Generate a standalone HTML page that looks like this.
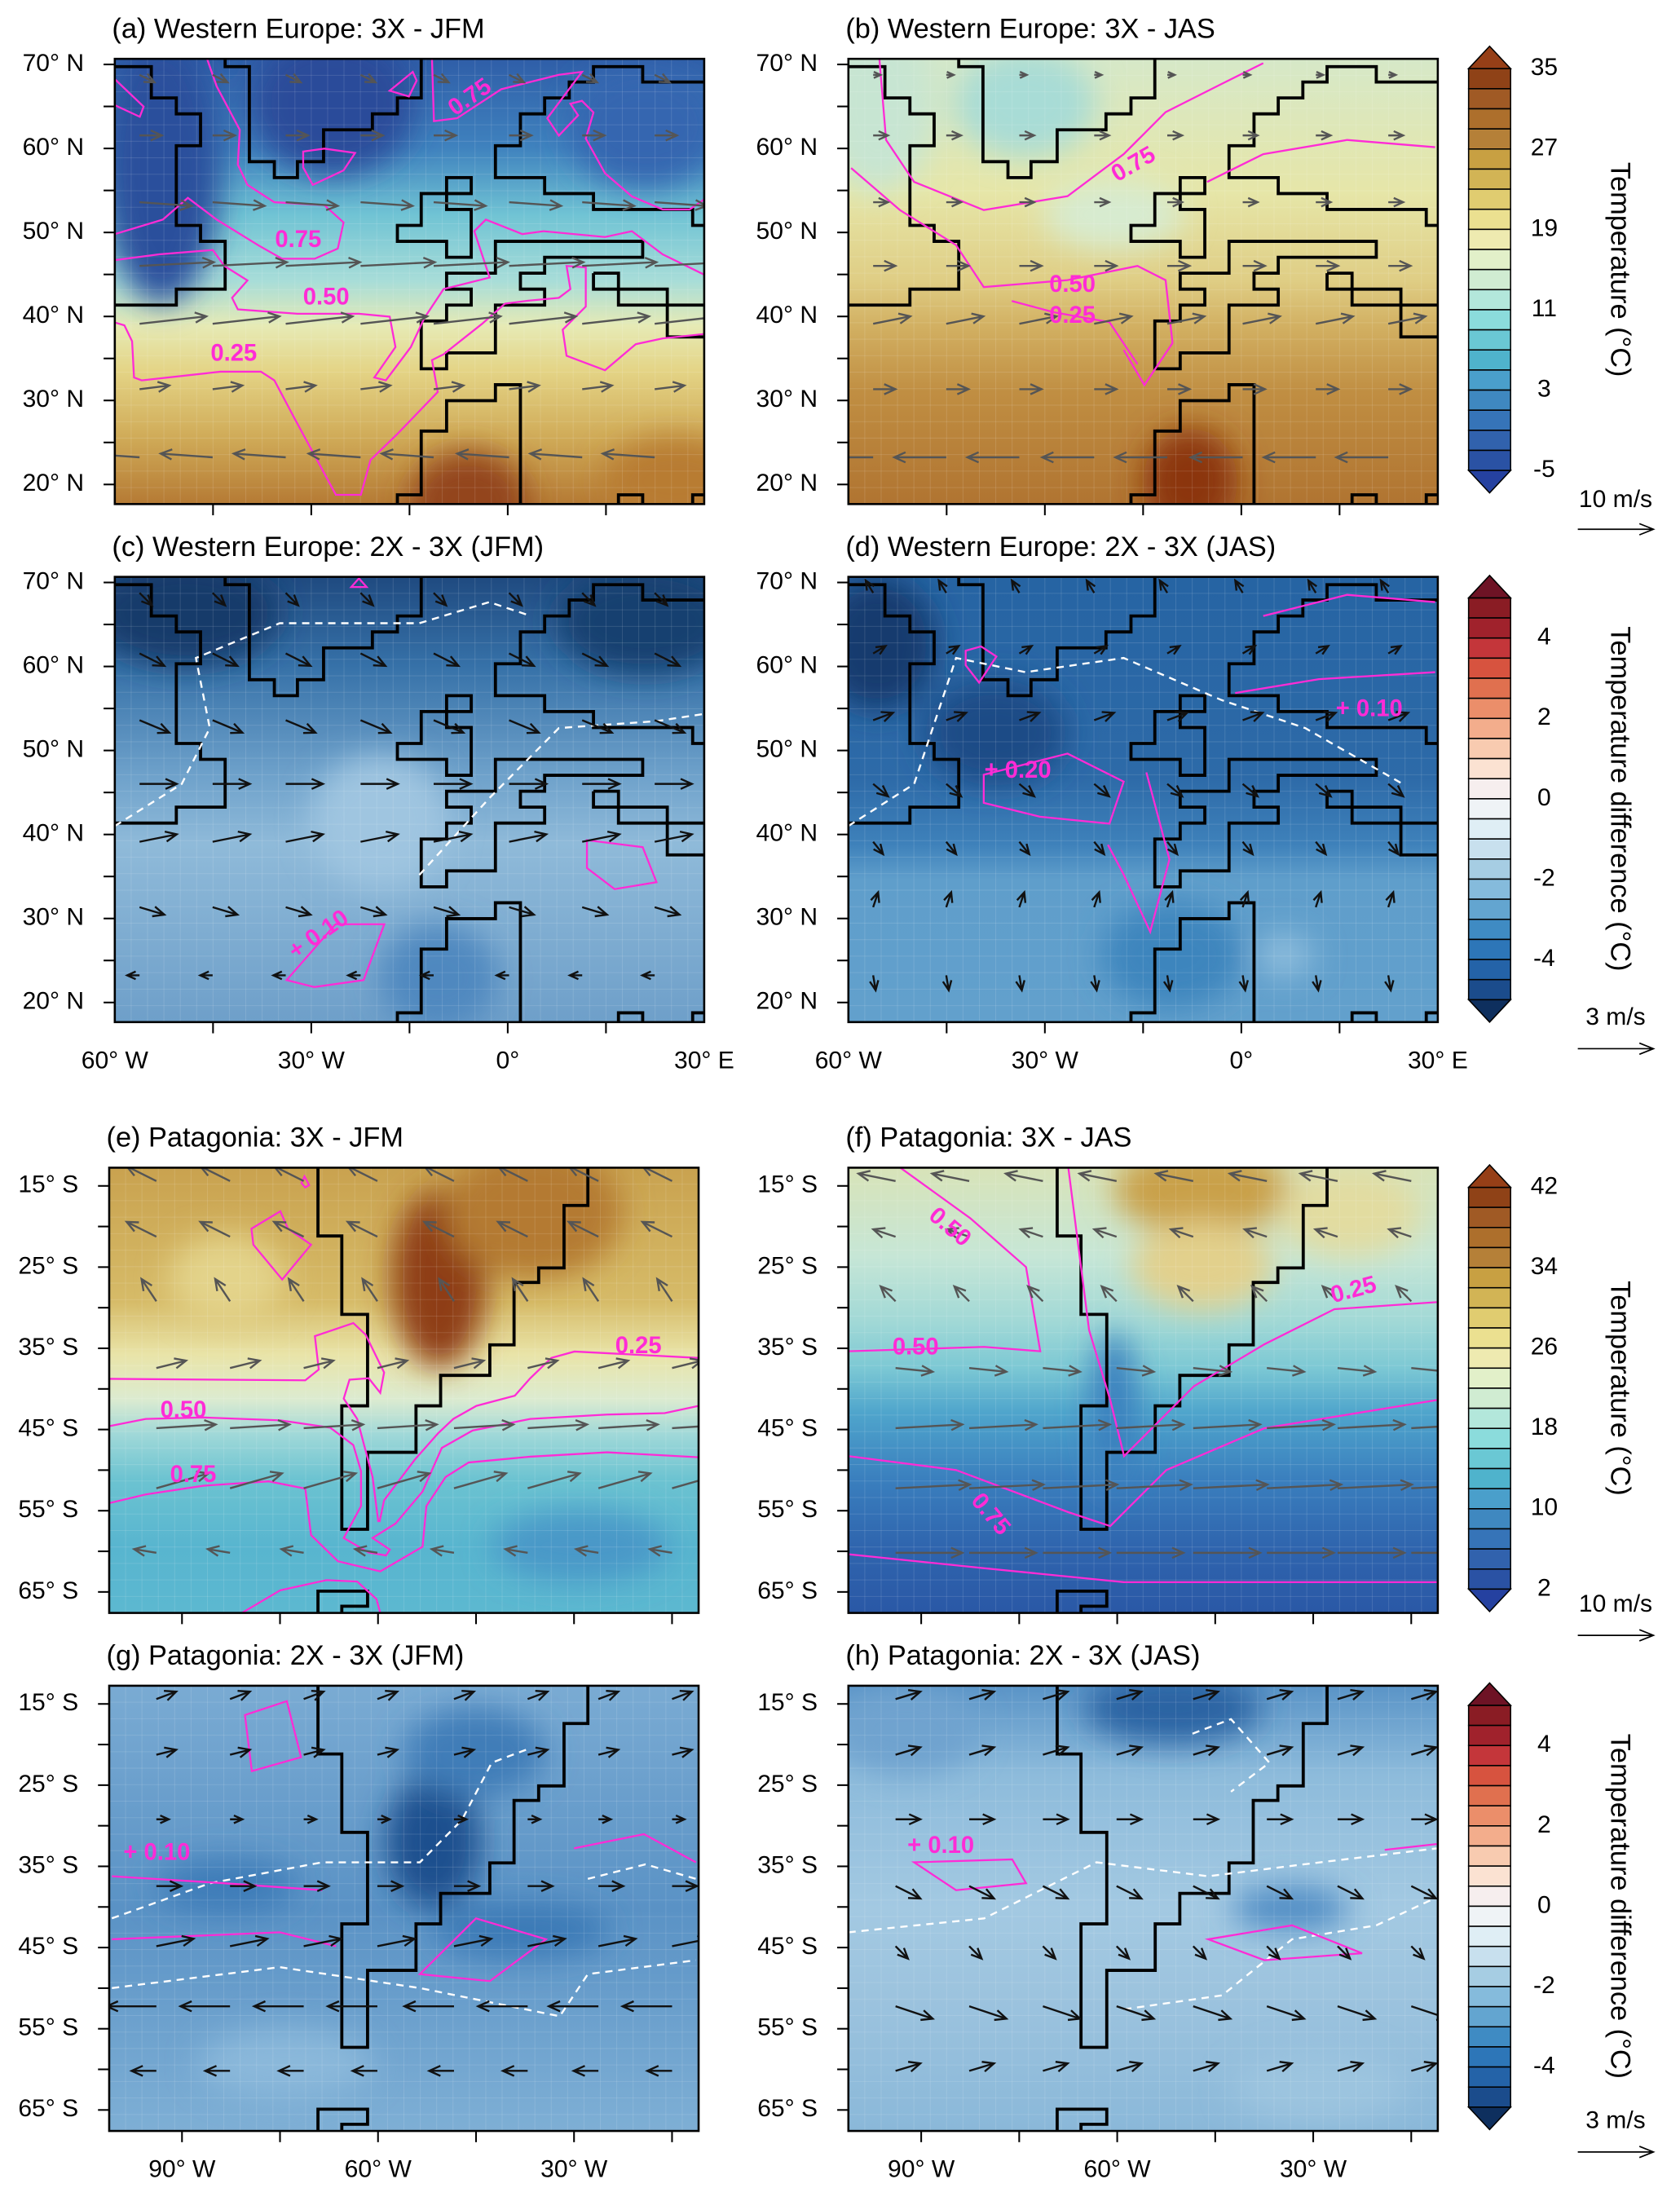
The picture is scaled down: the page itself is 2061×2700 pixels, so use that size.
<!DOCTYPE html>
<html><head><meta charset="utf-8"><title>Temperature maps</title>
<style>html,body{margin:0;padding:0;background:#fff}svg{display:block}text{font-family:"Liberation Sans",Arial,sans-serif}</style>
</head><body>
<svg id="fig" xmlns="http://www.w3.org/2000/svg" width="2061" height="2700" viewBox="0 0 1200 1572">
<defs>
<filter id="blur" x="-50%" y="-50%" width="200%" height="200%"><feGaussianBlur stdDeviation="11"/></filter>
</defs>
</svg>
<script>
// ---------- data ----------
const tempTicks1 = [35, 27, 19, 11, 3, -5];
const diffTicks = [4, 2, 0, -2, -4];
const tempTicks2 = [42, 34, 26, 18, 10, 2];
const eurLatLabels = [70, 60, 50, 40, 30, 20];
const patLatLabels = [15, 25, 35, 45, 55, 65];
const eurLonLabels = [-60, -30, 0, 30];
const patLonLabels = [-90, -60, -30];
const tempColors = ['#2a52a4','#3162ad','#3674b8','#3f88c0','#4a9fcb','#4fb3cc','#6ac8d4','#8bdcdc','#b3e7db','#d0ecd2','#e2f0c9','#eeeab0','#ebe090','#e0cc70','#d2b455','#c8a042','#b58038','#ad6f2c','#a05a25','#8f4217'];
const diffColors = ['#1b4c8c','#2463a8','#2d76b8','#3f8bc3','#63a5d0','#85bbdc','#a6cde3','#c8e0ee','#dfeef5','#eff3f6','#f6eeee','#fbe2d2','#f8cbb0','#f3ad8c','#eb8e6a','#e0704f','#d7533f','#c4363a','#a0222c','#8a1c24'];
// wind rows (top -> bottom), m/s
const windU_a = [2, 3, 7, 10, 9, 4, -7];
const windV_a = [-1, 0, -0.5, 0.5, 1, 0.5, 0.5];
const windU_b = [1, 2, 2, 3, 5, 3, -7];
const windV_b = [0, 0, 0, 0, 1, 0, 0];
const windU_c = [0.5, 1, 1.2, 1.5, 1.5, 1, -0.5];
const windV_c = [-0.5, -0.5, -0.5, 0, 0.3, -0.3, 0];
const windU_d = [-0.3, 0.5, 0.8, 0.6, 0.4, 0.2, 0.1];
const windV_d = [0.5, 0.3, 0.3, -0.5, -0.5, 0.6, -0.6];
const windU_e = [-4, -4, -2, 4, 8, 7, -3];
const windV_e = [2, 2, 3, 1, 0.5, 2, 0.5];
const windU_f = [-5, -3, -2, 5, 9, 10, 9];
const windV_f = [1, 1, 2, -0.5, 0.5, 0.5, 0];
const windU_g = [0.8, 0.8, 0.5, 1, 1.5, -2, -1];
const windV_g = [0.3, 0.2, 0, 0, 0.3, 0, 0];
const windU_h = [1, 1, 1, 1, 0.5, 1.5, 1];
const windV_h = [0.3, 0.3, 0, -0.5, -0.5, -0.5, 0.3];

// ---------- layout ----------
const NS = 'http://www.w3.org/2000/svg';
const svg = document.getElementById('fig');
function mk(tag, attrs, parent) {
  const e = document.createElementNS(NS, tag);
  for (const k in attrs) e.setAttribute(k, attrs[k]);
  (parent || svg).appendChild(e);
  return e;
}
const W = 421, H = 318;
const eurCoast = [
 "M25,52 L120,52 L120,160 L185,160 L185,215 L248,215 L248,325 L185,325 L185,600 L248,600 L248,655 L312,655 L312,820 L185,820 L185,875 L25,875",
 "M312,25 L312,52 L375,52 L375,380 L440,380 L440,435 L500,435 L500,380 L568,380 L568,270 L695,270 L695,215 L760,215 L760,160 L822,160 L822,25",
 "M1558,600 L1528,600 L1528,545 L1270,545 L1270,490 L1143,490 L1143,435 L1015,435 L1015,325 L1080,325 L1080,215 L1143,215 L1143,160 L1207,160 L1207,105 L1270,105 L1270,52 L1398,52 L1398,105 L1558,105",
 "M888,435 L952,435 L952,490 L822,490 L822,600 L760,600 L760,655 L888,655 L888,710 L952,710 L952,545 L888,545 Z",
 "M1015,655 L1398,655 L1398,710 L1143,710 L1143,765 L1080,765 L1080,820 L1143,820 L1143,875 L1015,875 L1015,1040 L888,1040 L888,1095 L822,1095 L822,930 L888,930 L888,875 L952,875 L952,820 L888,820 L888,765 L1015,765 Z",
 "M1270,765 L1335,765 L1335,875 L1558,875 M1270,765 L1270,820 L1462,820 L1462,985 L1558,985",
 "M760,1562 L760,1530 L822,1530 L822,1310 L888,1310 L888,1205 L1015,1205 L1015,1150 L1080,1150 L1080,1562",
 "M1335,1562 L1335,1530 L1398,1530 L1398,1562 M1528,1562 L1528,1530 L1558,1530"
];
const patCoast = [
 "M548,35 L548,270 L610,270 L610,540 L677,540 L677,855 L610,855 L610,1280 L677,1280 L677,1015 L803,1015 L803,855 L867,855 L867,750 L995,750 L995,645 L1058,645 L1058,430 L1122,430 L1122,380 L1188,380 L1188,165 L1250,165 L1250,35",
 "M548,1568 L548,1493 L677,1493 L677,1545 L610,1545 L610,1568"
];
const panels = [
 {id:'a', x:82, y:42, region:'eur', title:'(a) Western Europe: 3X - JFM', u:windU_a, v:windV_a, scale:5.3, arrowColor:'#555',
  stops:[[0,'#2f5ea8'],[0.2,'#3f82be'],[0.35,'#70c3d4'],[0.5,'#a8ddd8'],[0.6,'#e6eab5'],[0.7,'#e4d486'],[0.85,'#d0ab58'],[1,'#b57a34']],
  blobs:[[0.08,0.25,0.1,0.3,'#2b4f9c'],[0.37,0.1,0.14,0.16,'#2a4b9a'],[0.9,0.15,0.13,0.14,'#3566b0'],[0.6,1,0.1,0.12,'#93441a'],[0.95,0.95,0.12,0.1,'#b87b33']],
  mag:["M25,935 L50,945 L70,1000 L75,1125 L95,1135 L300,1105 L405,1105 L440,1135 L490,1260 L600,1530 L665,1530 L690,1410 L760,1320 L865,1175 L850,1065 L880,1045 L980,940 L1040,870 L1100,860 L1180,850 L1210,820 L1200,740 L1250,745 L1250,880 L1190,960 L1200,1050 L1300,1100 L1380,1010 L1450,990 L1558,975",
       "M25,720 L140,700 L280,685 L310,740 L370,790 L330,850 L345,890 L500,905 L660,905 L740,915 L755,1020 L700,1125 L730,1135 L795,1020 L830,920 L880,820 L1000,780 L960,620 L990,580 L1085,630 L1140,620 L1300,640 L1370,620 L1450,700 L1558,770",
       "M25,630 L150,580 L215,505 L290,580 L400,670 L460,715 L545,715 L605,680 L620,590 L570,530 L440,520 L370,460 L345,390 L350,270 L290,120 L265,25",
       "M850,25 L855,240 L915,230 L1030,130 L1180,80 L1240,70 L1150,230 L1180,290 L1230,220 L1210,180 L1240,170 L1270,210 L1250,300 L1300,420 L1370,500 L1450,545 L1520,545 L1558,510",
       "M25,95 L100,190 L90,225 L25,185", "M515,345 L570,335 L650,350 L620,410 L540,460 L515,400 Z", "M740,135 L800,70 L810,100 L790,155 Z"],
  labels:[[213,172,'0.75',0],[233,213,'0.50',0],[167,253,'0.25',0],[336,70,'0.75',-35]], dashed:[]},
 {id:'b', x:606, y:42, region:'eur', title:'(b) Western Europe: 3X - JAS', u:windU_b, v:windV_b, scale:5.3, arrowColor:'#555',
  stops:[[0,'#d6e8c8'],[0.3,'#e6e6a8'],[0.5,'#dfcd84'],[0.6,'#d2b062'],[0.75,'#c08e42'],[1,'#b07431']],
  blobs:[[0.3,0.1,0.12,0.12,'#a8dcd6'],[0.45,0.35,0.12,0.08,'#d7ebd0'],[0.58,0.95,0.08,0.12,'#8b3511'],[0.05,0.1,0.1,0.2,'#c7e5d2']],
  mag:["M105,15 L123,305 L196,450 L377,547 L595,499 L741,354 L850,209 L995,112 L1104,40",
       "M32,402 L159,547 L305,668 L377,813 L595,789 L777,740 L850,789 L868,1006 L795,1151 L741,1030",
       "M958,450 L1104,354 L1322,305 L1551,330", "M450,861 L560,900 L704,934 L777,1079"],
  labels:[[810,118,'0.75',-30],[766,204,'0.50',0],[766,226,'0.25',0]], dashed:[]},
 {id:'c', x:82, y:412, region:'eur', title:'(c) Western Europe: 2X - 3X (JFM)', u:windU_c, v:windV_c, scale:17.7, arrowColor:'#111',
  stops:[[0,'#1f4a80'],[0.2,'#3671a8'],[0.45,'#6fa2cb'],[0.6,'#8fbad9'],[1,'#6e9fc9']],
  blobs:[[0.12,0.08,0.16,0.12,'#123a6b'],[0.9,0.1,0.15,0.12,'#163f70'],[0.45,0.55,0.12,0.15,'#9fc5e0'],[0.55,0.9,0.1,0.12,'#4f88bf']],
  mag:["M472,1417 L599,1224 L726,1224 L672,1417 L544,1441 Z","M1253,934 L1398,958 L1434,1079 L1325,1103 L1253,1030 Z","M640,60 L660,30 L680,60 Z"],
  labels:[[228,668,'+ 0.10',-35]],
  dashed:["M25,885 L199,740 L272,547 L236,305 L454,185 L817,185 L999,112 L1107,160","M817,1054 L999,789 L1180,547 L1434,523 L1554,499"]},
 {id:'d', x:606, y:412, region:'eur', title:'(d) Western Europe: 2X - 3X (JAS)', u:windU_d, v:windV_d, scale:17.7, arrowColor:'#111',
  stops:[[0,'#2664a3'],[0.45,'#2d6aa8'],[0.6,'#3e81ba'],[0.68,'#5f9ecb'],[1,'#62a0cc']],
  blobs:[[0.05,0.15,0.1,0.15,'#123a6e'],[0.25,0.35,0.12,0.12,'#1a4b86'],[0.74,0.85,0.05,0.05,'#8cbcdc'],[0.55,0.85,0.12,0.12,'#3e85bd']],
  mag:["M377,708 L595,635 L741,732 L704,877 L523,853 L377,805 Z","M1104,160 L1322,87 L1551,112","M1031,426 L1249,378 L1551,354","M330,280 L370,265 L410,300 L365,390 L330,330 Z","M800,700 L860,1000 L810,1250 L740,1050 L700,950"],
  labels:[[727,551,'+ 0.20',0],[978,507,'+ 0.10',0]],
  dashed:["M25,885 L196,740 L305,305 L486,354 L741,305 L995,450 L1213,547 L1467,740"]},
 {id:'e', x:78, y:834, region:'pat', title:'(e) Patagonia: 3X - JFM', u:windU_e, v:windV_e, scale:5.3, arrowColor:'#555',
  stops:[[0,'#c9a24f'],[0.3,'#d6bb68'],[0.42,'#e9e4a8'],[0.52,'#dcebd0'],[0.6,'#9fd8d8'],[0.7,'#6cc3d1'],[0.85,'#58b5cf'],[1,'#5cb8d0']],
  blobs:[[0.56,0.25,0.08,0.2,'#8e3e14'],[0.72,0.1,0.15,0.15,'#b47a32'],[0.8,0.85,0.15,0.08,'#4a98c8'],[0.2,0.25,0.1,0.1,'#e3d38a']],
  mag:["M5,762 L515,767 L550,730 L540,615 L640,570 L672,610 L720,740 L710,810 L680,760 L630,765 L615,830 L650,900 L670,1000 L690,1100 L705,1255",
       "M1538,690 L1215,668 L1155,690 L1100,760 L1060,820 L960,855 L900,900 L860,950 L800,1040 L760,1110 L720,1180 L708,1255",
       "M5,925 L100,900 L250,895 L450,905 L580,930 L640,990 L660,1080 L660,1200 L615,1310 L680,1360 L725,1370 L735,1350 L690,1310 L750,1260 L820,1150 L870,1000 L950,940 L1100,900 L1300,885 L1450,880 L1538,855",
       "M5,1190 L100,1160 L250,1130 L420,1115 L515,1140 L530,1300 L600,1390 L710,1425 L820,1340 L830,1200 L880,1100 L940,1050 L1100,1030 L1300,1015 L1538,1032",
       "M375,245 L450,185 L470,245 L530,300 L455,420 L380,300 Z","M505,88 L513,65 L525,95 L515,103 Z","M350,1568 L450,1490 L570,1455 L650,1460 L700,1520 L710,1568"],
  labels:[[456,962,'0.25',0],[131,1008,'0.50',0],[138,1054,'0.75',0]], dashed:[]},
 {id:'f', x:606, y:834, region:'pat', title:'(f) Patagonia: 3X - JAS', u:windU_f, v:windV_f, scale:5.3, arrowColor:'#555',
  stops:[[0,'#d8e3b8'],[0.2,'#c6e6d6'],[0.35,'#a0d8d6'],[0.45,'#7cc8d4'],[0.55,'#4fa5cc'],[0.7,'#3a7fbe'],[0.85,'#2f65ae'],[1,'#2a58a6']],
  blobs:[[0.6,0.05,0.15,0.1,'#c9a04a'],[0.6,0.22,0.12,0.1,'#e2d08c'],[0.85,0.1,0.12,0.1,'#e2dca0'],[0.45,0.55,0.04,0.18,'#3a80be']],
  mag:["M140,35 L322,209 L467,377 L504,667 L358,652 L5,667","M577,35 L631,594 L686,835 L722,1028 L904,787 L1087,643 L1269,522 L1535,498",
       "M5,1028 L285,1076 L577,1221 L686,1269 L832,1076 L1087,932 L1535,835","M5,1366 L358,1414 L722,1462 L1535,1462"],
  labels:[[678,877,'0.50',40],[967,922,'0.25',-15],[654,963,'0.50',0],[707,1082,'0.75',50]], dashed:[]},
 {id:'g', x:78, y:1204, region:'pat', title:'(g) Patagonia: 2X - 3X (JFM)', u:windU_g, v:windV_g, scale:17.7, arrowColor:'#111',
  stops:[[0,'#7aabd3'],[0.5,'#5a92c5'],[1,'#7eafd5']],
  blobs:[[0.55,0.35,0.08,0.15,'#1d4f8e'],[0.62,0.15,0.12,0.1,'#3f7db8'],[0.7,0.55,0.15,0.06,'#3a79b6'],[0.2,0.45,0.12,0.06,'#3c7cb8'],[0.3,0.85,0.15,0.08,'#8ab8da']],
  mag:["M358,136 L467,88 L504,281 L376,329 Z","M12,691 L304,715 L559,739","M12,908 L449,884 L595,932","M813,1028 L959,836 L1141,908 L995,1052 Z","M1214,595 L1396,546 L1531,643"],
  labels:[[112,1324,'+ 0.10',0]],
  dashed:["M12,836 L267,715 L559,643 L813,643 L922,498 L1000,300 L1100,250","M12,1076 L449,1004 L813,1076 L1177,1173 L1250,1028 L1531,980","M1250,700 L1400,650 L1531,700"]},
 {id:'h', x:606, y:1204, region:'pat', title:'(h) Patagonia: 2X - 3X (JAS)', u:windU_h, v:windV_h, scale:17.7, arrowColor:'#111',
  stops:[[0,'#5a94c7'],[0.2,'#8dbbdb'],[0.5,'#a3c9e2'],[0.7,'#9cc3de'],[1,'#8ab8d9']],
  blobs:[[0.55,0.05,0.15,0.08,'#2a64a3'],[0.1,0.1,0.12,0.1,'#6fa3cf'],[0.75,0.5,0.1,0.05,'#4f8cc4'],[0.8,0.9,0.15,0.08,'#9cc4df']],
  mag:["M176,643 L431,633 L467,715 L285,739 Z","M941,908 L1159,860 L1341,956 L1087,980 Z","M1400,600 L1535,580"],
  labels:[[672,1319,'+ 0.10',0]],
  dashed:["M5,884 L358,836 L650,643 L941,691 L1232,643 L1535,595","M722,1149 L977,1101 L1159,908 L1378,860 L1535,764","M900,200 L1000,150 L1100,300 L1000,400"]}
];

function lonX(p, lon) {
  if (p.region === 'eur') return p.x + (lon + 60) * (W / 90);
  return p.x + 52 + (lon + 90) * 4.667;
}
function latY(p, lat) {
  if (p.region === 'eur') return p.y + 4 + (70 - lat) * 6;
  return p.y + 13 + (lat - 15) * 5.8;
}
const eurCols = [0.042,0.166,0.29,0.417,0.541,0.669,0.793,0.916];
const eurRows = [0.036,0.172,0.322,0.465,0.595,0.742,0.895];
const patCols = [0.08,0.205,0.33,0.455,0.585,0.71,0.83,0.955];
const patRows = [0.03,0.155,0.30,0.45,0.585,0.72,0.865];

panels.forEach(p => {
  const g = mk('g', {});
  
  
  const grad = mk('linearGradient', {id:'gr'+p.id, x1:0, y1:0, x2:0, y2:1}, svg.querySelector('defs'));
  p.stops.forEach(s => mk('stop', {offset:s[0], 'stop-color':s[1]}, grad));
  const cp = mk('clipPath', {id:'cp'+p.id}, svg.querySelector('defs'));
  mk('rect', {x:p.x, y:p.y, width:W, height:H}, cp);
  const field = mk('g', {'clip-path':'url(#cp'+p.id+')'}, g);
  
  
  mk('rect', {x:p.x, y:p.y, width:W, height:H, fill:'url(#gr'+p.id+')'}, field);
  const bl = mk('g', {filter:'url(#blur)'}, field);
  p.blobs.forEach(b => mk('ellipse', {cx:p.x+b[0]*W, cy:p.y+b[1]*H, rx:b[2]*W, ry:b[3]*H, fill:b[4]}, bl));
  for (let i = 1; i < 36; i++) mk('line', {x1:p.x+i*W/36, y1:p.y, x2:p.x+i*W/36, y2:p.y+H, stroke:'#fff', 'stroke-opacity':0.12, 'stroke-width':0.6}, field);
  for (let i = 1; i < 27; i++) mk('line', {x1:p.x, y1:p.y+i*H/27, x2:p.x+W, y2:p.y+i*H/27, stroke:'#fff', 'stroke-opacity':0.12, 'stroke-width':0.6}, field);
  let sx, sy, ox, oy;
  if (p.region === 'eur') { sx = W/1533; sy = H/1537; ox = 25; oy = 25; }
  else { sx = W/1533; sy = H/1533; ox = 5; oy = 35; }
  const mg = mk('g', {transform:`translate(${p.x - ox*sx},${p.y - oy*sy}) scale(${sx},${sy})`}, field);
  (p.region === 'eur' ? eurCoast : patCoast).forEach(d => {
    const c = mk('path', {d:d, fill:'none', stroke:'#000', 'stroke-width':3.8, 'vector-effect':'non-scaling-stroke'}, mg);
    
    
  });
  p.dashed.forEach(d => {
    const c = mk('path', {d:d, fill:'none', stroke:'#fff', 'stroke-width':2.4, 'stroke-dasharray':'9,7', 'vector-effect':'non-scaling-stroke'}, mg);
    
    
  });
  p.mag.forEach(d => {
    const c = mk('path', {d:d, fill:'none', stroke:'#ff2bd6', 'stroke-width':2.3, 'vector-effect':'non-scaling-stroke'}, mg);
    
    
  });
  const cols = p.region === 'eur' ? eurCols : patCols;
  const rows = p.region === 'eur' ? eurRows : patRows;
  rows.forEach((rf, r) => cols.forEach((cf, c) => {
    const x0 = p.x + cf*W, y0 = p.y + rf*H;
    const dx = p.u[r]*p.scale, dy = -p.v[r]*p.scale;
    const len = Math.hypot(dx, dy) || 1;
    const x1 = x0 + dx, y1 = y0 + dy;
    const ux = dx/len, uy = dy/len, hl = Math.min(8, 0.35*len + 3);
    const a = mk('path', {d:`M${x0},${y0} L${x1},${y1} M${x1-hl*ux+hl*0.45*uy},${y1-hl*uy-hl*0.45*ux} L${x1},${y1} L${x1-hl*ux-hl*0.45*uy},${y1-hl*uy+hl*0.45*ux}`, fill:'none', stroke:p.arrowColor, 'stroke-width':1.4}, field);
    
    
  }));
  p.labels.forEach(l => {
    const t = mk('text', {x:l[0], y:l[1], 'font-size':17, 'font-weight':'bold', fill:'#ff2bd6', 'text-anchor':'middle', 'dominant-baseline':'middle', transform:`rotate(${l[3]},${l[0]},${l[1]})`}, field);
    t.textContent = l[2];
    
    
  });
  const fr = mk('rect', {x:p.x, y:p.y, width:W, height:H, fill:'none', stroke:'#000', 'stroke-width':1.5}, g);
  
  
  const tt = mk('text', {x:p.x - 2, y:p.y - 15, 'font-size':20, fill:'#000'}, g);
  tt.textContent = p.title;
  
  
  const lats = p.region === 'eur' ? [70,65,60,55,50,45,40,35,30,25,20] : [15,20,25,30,35,40,45,50,55,60,65];
  lats.forEach(lat => {
    const y = latY(p, lat);
    mk('line', {x1:p.x-8, y1:y, x2:p.x, y2:y, stroke:'#000', 'stroke-width':1.2}, g);
  });
  (p.region === 'eur' ? eurLatLabels : patLatLabels).forEach(lat => {
    const t = mk('text', {x:p.x - 22, y:latY(p, lat), 'font-size':17.5, 'text-anchor':'end', 'dominant-baseline':'middle'}, g);
    t.textContent = lat + '° ' + (p.region === 'eur' ? 'N' : 'S');
    
    
  });
  const lons = p.region === 'eur' ? [-45,-30,-15,0,15] : [-90,-75,-60,-45,-30,-15];
  lons.forEach(lon => {
    const x = lonX(p, lon);
    mk('line', {x1:x, y1:p.y+H, x2:x, y2:p.y+H+8, stroke:'#000', 'stroke-width':1.2}, g);
  });
  if (p.id === 'c' || p.id === 'd' || p.id === 'g' || p.id === 'h') {
    (p.region === 'eur' ? eurLonLabels : patLonLabels).forEach(lon => {
      const t = mk('text', {x:lonX(p, lon), y:p.y + H + 33, 'font-size':17.5, 'text-anchor':'middle'}, g);
      t.textContent = lon === 0 ? '0°' : Math.abs(lon) + '° ' + (lon < 0 ? 'W' : 'E');
      
      
    });
  }
});

// ---------- colorbars ----------
const bars = [
 {top:49, colors:tempColors, ticks:tempTicks1, vmax:35, step:2, triTop:'#963f17', triBot:'#2541a0', title:'Temperature (°C)', ref:'10 m/s', refY:362, arrY:378},
 {top:427, colors:diffColors, ticks:diffTicks, vmax:5, step:0.5, triTop:'#6e1325', triBot:'#0e2f5e', title:'Temperature difference (°C)', ref:'3 m/s', refY:732, arrY:749},
 {top:848, colors:tempColors, ticks:tempTicks2, vmax:42, step:2, triTop:'#963f17', triBot:'#2541a0', title:'Temperature (°C)', ref:'10 m/s', refY:1151, arrY:1168},
 {top:1218, colors:diffColors, ticks:diffTicks, vmax:5, step:0.5, triTop:'#6e1325', triBot:'#0e2f5e', title:'Temperature difference (°C)', ref:'3 m/s', refY:1520, arrY:1537}
];
bars.forEach((b, i) => {
  const g = mk('g', {});
  
  
  const x0 = 1049, x1 = 1079, sh = 14.35, n = b.colors.length;
  const bot = b.top + n*sh;
  b.colors.slice().reverse().forEach((c, k) => mk('rect', {x:x0, y:b.top + k*sh, width:x1-x0, height:sh, fill:c, stroke:'#000', 'stroke-width':0.9}, g));
  mk('polygon', {points:`${x0},${b.top} ${(x0+x1)/2},${b.top-16} ${x1},${b.top}`, fill:b.triTop, stroke:'#000', 'stroke-width':0.9}, g);
  mk('polygon', {points:`${x0},${bot} ${(x0+x1)/2},${bot+16} ${x1},${bot}`, fill:b.triBot, stroke:'#000', 'stroke-width':0.9}, g);
  b.ticks.forEach(v => {
    const y = b.top + (b.vmax - v)/b.step*sh;
    const t = mk('text', {x:1103, y:y, 'font-size':17.5, 'text-anchor':'middle', 'dominant-baseline':'middle'}, g);
    t.textContent = v;
    
    
  });
  const cy = (b.top + bot)/2;
  const tt = mk('text', {x:1156, y:cy, 'font-size':20, 'text-anchor':'middle', 'dominant-baseline':'middle', transform:`rotate(90,1156,${cy})`}, g);
  tt.textContent = b.title;
  
  
  const rt = mk('text', {x:1154, y:b.refY, 'font-size':17.5, 'text-anchor':'middle'}, g);
  rt.textContent = b.ref;
  
  
  const ra = mk('path', {d:`M1127,${b.arrY} L1181,${b.arrY} M1171,${b.arrY-4} L1181,${b.arrY} L1171,${b.arrY+4}`, fill:'none', stroke:'#000', 'stroke-width':1}, g);
  
  
});
</script>
</body></html>
